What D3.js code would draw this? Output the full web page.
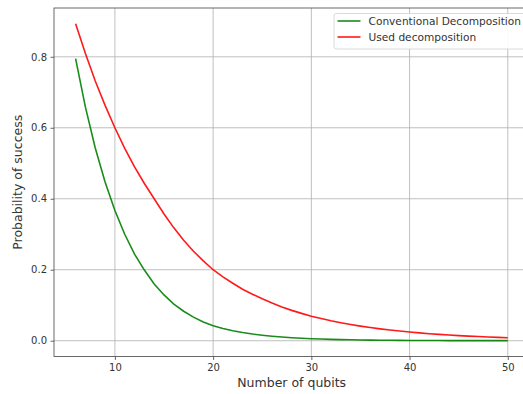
<!DOCTYPE html>
<html>
<head>
<meta charset="utf-8">
<script src="https://cdn.jsdelivr.net/npm/d3@7"></script>
<style>
  body { margin: 0; background: #fff; }
  svg { display: block; overflow: hidden; }
  text { font-family: "DejaVu Sans", sans-serif; fill: #333; }
</style>
</head>
<body>
<svg id="chart" width="523" height="394"></svg>
<script>
// number of qubits 6..50
const qubits = d3.range(6, 51);

const conventional = [
  0.795, 0.658, 0.543, 0.447, 0.367, 0.300, 0.244, 0.199, 0.160, 0.129,
  0.103, 0.083, 0.0665, 0.053, 0.042, 0.0344, 0.0282, 0.0231, 0.0189, 0.0155,
  0.0127, 0.0104, 0.0085, 0.0069, 0.0056, 0.0046, 0.0037, 0.0030, 0.0025, 0.0020,
  0.0017, 0.0014, 0.0011, 0.0009, 0.0007, 0.0006, 0.0005, 0.0004, 0.0003, 0.0003,
  0.0002, 0.0002, 0.0001, 0.0001, 0.0001
];

const used = [
  0.893, 0.809, 0.732, 0.663, 0.600, 0.542, 0.490, 0.443, 0.400, 0.357,
  0.318, 0.283, 0.252, 0.225, 0.200, 0.180, 0.162, 0.145, 0.131, 0.118,
  0.106, 0.095, 0.0855, 0.077, 0.069, 0.0624, 0.0562, 0.0507, 0.0457, 0.0412,
  0.0371, 0.0334, 0.0301, 0.0272, 0.0245, 0.0220, 0.0198, 0.0178, 0.0160, 0.0144,
  0.0130, 0.0117, 0.0105, 0.0094, 0.0085
];

const xTicks = [10, 20, 30, 40, 50];
const yTicks = [0.0, 0.2, 0.4, 0.6, 0.8];
const seriesNames = ["Conventional Decomposition", "Used decomposition"];
const seriesColors = ["#008000", "#ff0000"];

const padL = 54, padT = 8, padR = 529.4, padB = 356.5;

const svg = d3.select("#chart");

const x = d3.scaleLinear().domain([3.8, 52.2]).range([padL, padR]);
const y = d3.scaleLinear().domain([-0.0445, 0.9375]).range([padB, padT]);

// grid
const grid = svg.append("g").attr("stroke", "#b0b0b0").attr("stroke-width", 0.8);
grid.selectAll(".gx").data(xTicks).enter().append("line")
    .attr("x1", d => x(d)).attr("x2", d => x(d))
    .attr("y1", padT).attr("y2", padB);
grid.selectAll(".gy").data(yTicks).enter().append("line")
    .attr("x1", padL).attr("x2", padR)
    .attr("y1", d => y(d)).attr("y2", d => y(d));

// axes
const xAxis = svg.append("g")
    .attr("transform", "translate(0," + padB + ")")
    .call(d3.axisBottom(x).tickValues(xTicks).tickSize(3.5).tickPadding(3.5).tickFormat(d3.format("d")));
const yAxis = svg.append("g")
    .attr("transform", "translate(" + padL + ",0)")
    .call(d3.axisLeft(y).tickValues(yTicks).tickSize(3.5).tickPadding(3.5).tickFormat(d3.format(".1f")));

[xAxis, yAxis].forEach(function(a) {
    a.select(".domain").remove();
    a.selectAll("line").attr("stroke", "#444").attr("stroke-width", 0.8);
    a.selectAll("text").attr("font-size", 10).attr("fill", "#333")
        .style("font-family", "DejaVu Sans, sans-serif");
});

// spines
svg.append("rect")
    .attr("x", padL).attr("y", padT)
    .attr("width", padR - padL).attr("height", padB - padT)
    .attr("fill", "none").attr("stroke", "#444").attr("stroke-width", 0.8);

// lines
const line = d3.line().x((d, i) => x(qubits[i])).y(d => y(d));
[conventional, used].forEach(function(s, k) {
    svg.append("path")
        .datum(s)
        .attr("d", line)
        .attr("fill", "none")
        .attr("stroke", seriesColors[k])
        .attr("stroke-width", 1.6)
        .attr("opacity", 0.9);
});

// labels
svg.append("text")
    .attr("x", (padL + padR) / 2).attr("y", 387)
    .attr("text-anchor", "middle").attr("font-size", 12.5)
    .text("Number of qubits");
svg.append("text")
    .attr("transform", "translate(22," + ((padT + padB) / 2) + ") rotate(-90)")
    .attr("text-anchor", "middle").attr("font-size", 12.5)
    .text("Probability of success");

// legend
const legend = svg.append("g");
legend.append("rect")
    .attr("x", 334).attr("y", 13.5).attr("width", 200).attr("height", 35.5)
    .attr("rx", 2.5)
    .attr("fill", "#fff").attr("fill-opacity", 0.9)
    .attr("stroke", "#d0d0d0").attr("stroke-width", 0.8);
seriesNames.forEach(function(name, k) {
    const ly = 21 + k * 16;
    legend.append("line")
        .attr("x1", 337.5).attr("x2", 360.5).attr("y1", ly).attr("y2", ly)
        .attr("stroke", seriesColors[k]).attr("stroke-width", 1.6).attr("opacity", 0.9);
    legend.append("text")
        .attr("x", 368.5).attr("y", ly + 3.8)
        .attr("font-size", 10.6)
        .text(name);
});
</script>
</body>
</html>
